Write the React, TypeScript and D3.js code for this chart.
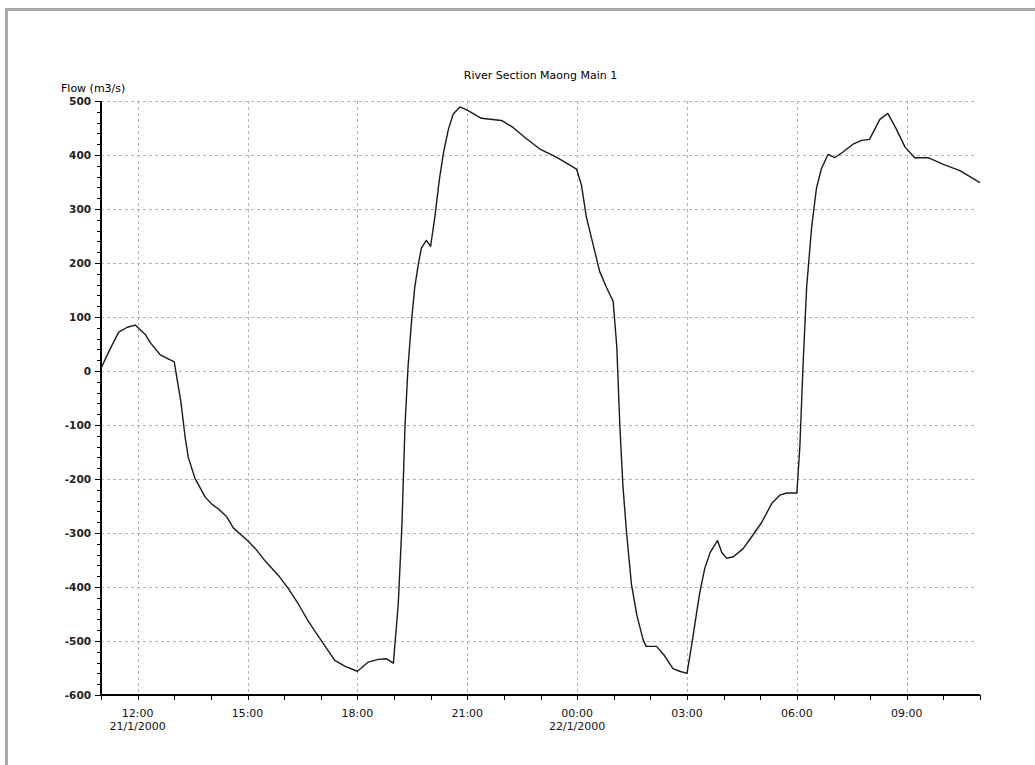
import React, { useRef, useEffect } from "react";
import * as d3 from "d3";

const title = "River Section Maong Main 1";
const yLabel = "Flow (m3/s)";

// times (day/month/year hour:min)
const times = [
  "21/01/2000 11:00", "21/01/2000 11:15", "21/01/2000 11:29", "21/01/2000 11:43", "21/01/2000 11:56",
  "21/01/2000 12:13", "21/01/2000 12:21", "21/01/2000 12:37", "21/01/2000 13:00", "21/01/2000 13:11",
  "21/01/2000 13:18", "21/01/2000 13:23", "21/01/2000 13:34", "21/01/2000 13:51", "21/01/2000 14:02",
  "21/01/2000 14:13", "21/01/2000 14:26", "21/01/2000 14:37", "21/01/2000 15:00", "21/01/2000 15:13",
  "21/01/2000 15:29", "21/01/2000 15:51", "21/01/2000 16:07", "21/01/2000 16:23", "21/01/2000 16:40",
  "21/01/2000 17:02", "21/01/2000 17:23", "21/01/2000 17:40", "21/01/2000 18:00", "21/01/2000 18:18",
  "21/01/2000 18:34", "21/01/2000 18:48", "21/01/2000 18:59", "21/01/2000 19:07", "21/01/2000 19:13",
  "21/01/2000 19:18", "21/01/2000 19:23", "21/01/2000 19:29", "21/01/2000 19:34", "21/01/2000 19:40",
  "21/01/2000 19:45", "21/01/2000 19:53", "21/01/2000 20:00", "21/01/2000 20:07", "21/01/2000 20:14",
  "21/01/2000 20:21", "21/01/2000 20:29", "21/01/2000 20:37", "21/01/2000 20:48", "21/01/2000 21:00",
  "21/01/2000 21:23", "21/01/2000 21:56", "21/01/2000 22:15", "21/01/2000 22:34", "21/01/2000 22:59",
  "21/01/2000 23:26", "21/01/2000 23:59", "22/01/2000 00:07", "22/01/2000 00:15", "22/01/2000 00:26",
  "22/01/2000 00:37", "22/01/2000 00:48", "22/01/2000 00:59", "22/01/2000 01:05", "22/01/2000 01:10",
  "22/01/2000 01:15", "22/01/2000 01:21", "22/01/2000 01:29", "22/01/2000 01:38", "22/01/2000 01:48",
  "22/01/2000 01:53", "22/01/2000 02:10", "22/01/2000 02:23", "22/01/2000 02:37", "22/01/2000 02:48",
  "22/01/2000 03:00", "22/01/2000 03:08", "22/01/2000 03:15", "22/01/2000 03:21", "22/01/2000 03:29",
  "22/01/2000 03:38", "22/01/2000 03:50", "22/01/2000 03:57", "22/01/2000 04:05", "22/01/2000 04:16",
  "22/01/2000 04:32", "22/01/2000 04:46", "22/01/2000 05:02", "22/01/2000 05:19", "22/01/2000 05:32",
  "22/01/2000 05:43", "22/01/2000 06:00", "22/01/2000 06:05", "22/01/2000 06:10", "22/01/2000 06:16",
  "22/01/2000 06:24", "22/01/2000 06:32", "22/01/2000 06:40", "22/01/2000 06:51", "22/01/2000 07:02",
  "22/01/2000 07:16", "22/01/2000 07:32", "22/01/2000 07:46", "22/01/2000 07:59", "22/01/2000 08:16",
  "22/01/2000 08:29", "22/01/2000 08:43", "22/01/2000 08:57", "22/01/2000 09:13", "22/01/2000 09:35",
  "22/01/2000 09:59", "22/01/2000 10:27", "22/01/2000 11:00",
];

const flows = [
  5, 41, 72, 81, 85,
  67, 52, 30, 17, -58,
  -124, -160, -199, -234, -247,
  -256, -270, -291, -314, -329,
  -352, -379, -403, -431, -464,
  -501, -536, -547, -556, -539,
  -534, -533, -541, -431, -285,
  -102, 8, 96, 155, 199,
  228, 242, 231, 286, 352,
  404, 447, 476, 489, 483,
  468, 464, 451, 433, 411,
  396, 374, 345, 286, 235,
  184, 155, 129, 45, -102,
  -212, -300, -395, -453, -497,
  -510, -510, -527, -551, -556,
  -560, -505, -453, -410, -366,
  -336, -314, -336, -347, -344,
  -329, -307, -281, -245, -230,
  -226, -226, -138, 8, 155,
  264, 338, 374, 401, 395,
  406, 420, 427, 429, 466,
  477, 448, 415, 395, 395,
  383, 371, 349,
];

const yTicks = [500, 400, 300, 200, 100, 0, -100, -200, -300, -400, -500, -600];
const timeStart = "21/01/2000 11:00";
const timeEnd = "22/01/2000 11:00";

const parseTime = d3.timeParse("%d/%m/%Y %H:%M");

const FlowChart = () => {
  const canvas = useRef<HTMLDivElement>(null);

  const W = 1035;
  const H = 765;
  const margin = { top: 101, right: 55, bottom: 70, left: 101 };
  const width = W - margin.left - margin.right;
  const height = H - margin.top - margin.bottom;
  const font = "'DejaVu Sans', Verdana, sans-serif";

  const draw = () => {
    d3.select(canvas.current).selectAll("*").remove();

    const svg = d3.select(canvas.current)
      .append("svg")
      .attr("width", W)
      .attr("height", H)
      .style("position", "absolute")
      .style("left", 0)
      .style("top", 0)
      .style("background", "#fff");

    // grey frame at top / left
    svg.append("line").attr("x1", 5).attr("x2", W).attr("y1", 9.5).attr("y2", 9.5)
      .style("stroke", "#a8a8a8").style("stroke-width", 3);
    svg.append("line").attr("x1", 6.5).attr("x2", 6.5).attr("y1", 8).attr("y2", H)
      .style("stroke", "#a8a8a8").style("stroke-width", 3);

    const xScale = d3.scaleTime()
      .domain([parseTime(timeStart)!, parseTime(timeEnd)!])
      .range([0, width]);
    const yScale = d3.scaleLinear().domain([-600, 500]).range([height, 0]);

    const g = svg.append("g").attr("transform", "translate(" + margin.left + "," + margin.top + ")");

    // grid
    const xMajor = xScale.ticks(d3.timeHour.every(3)!).filter(d => +d > +xScale.domain()[0] && +d < +xScale.domain()[1]);
    g.selectAll(".hgrid")
      .data(yTicks.filter(d => d > -600))
      .join("line")
      .attr("x1", 0).attr("x2", width - 3)
      .attr("y1", d => Math.round(yScale(d)) + 0.5).attr("y2", d => Math.round(yScale(d)) + 0.5)
      .style("stroke", "#b4b4b4").style("stroke-dasharray", "3,3");
    g.selectAll(".vgrid")
      .data(xMajor)
      .join("line")
      .attr("x1", d => Math.round(xScale(d)) + 0.5).attr("x2", d => Math.round(xScale(d)) + 0.5)
      .attr("y1", 0).attr("y2", height)
      .style("stroke", "#b4b4b4").style("stroke-dasharray", "3,3");

    // y axis
    const yMinor = d3.range(-600, 501, 20);
    g.selectAll(".ymin")
      .data(yMinor)
      .join("line")
      .attr("x1", d => (d % 100 === 0 ? -6 : -4)).attr("x2", 0)
      .attr("y1", d => Math.round(yScale(d)) + 0.5).attr("y2", d => Math.round(yScale(d)) + 0.5)
      .style("stroke", "#000");
    g.append("line").attr("x1", 0).attr("x2", 0).attr("y1", 0).attr("y2", height + 1)
      .style("stroke", "#000").style("stroke-width", 2);
    g.selectAll(".ylab")
      .data(yTicks)
      .join("text")
      .attr("x", -10)
      .attr("y", d => yScale(d))
      .attr("dy", "0.36em")
      .attr("text-anchor", "end")
      .style("font-family", font)
      .style("font-size", "10.5px")
      .style("font-weight", "bold")
      .style("fill", "#222")
      .text(d => String(d));

    // x axis
    const xHours = d3.timeHour.range(xScale.domain()[0], d3.timeHour.offset(xScale.domain()[1], 1));
    g.selectAll(".xmin")
      .data(xHours)
      .join("line")
      .attr("x1", d => Math.round(xScale(d)) + 0.5).attr("x2", d => Math.round(xScale(d)) + 0.5)
      .attr("y1", height).attr("y2", height + 5)
      .style("stroke", "#000");
    g.append("line").attr("x1", -1).attr("x2", width).attr("y1", height).attr("y2", height)
      .style("stroke", "#000").style("stroke-width", 2);

    const fmtHour = d3.timeFormat("%H:%M");
    const fmtDay = d3.timeFormat("%-d/%-m/%Y");
    const xl = g.selectAll(".xlab")
      .data(xMajor)
      .join("text")
      .attr("x", d => xScale(d))
      .attr("y", height + 22)
      .attr("text-anchor", "middle")
      .style("font-family", font)
      .style("font-size", "11px")
      .style("fill", "#111");
    xl.append("tspan").attr("x", d => xScale(d)).text(d => fmtHour(d));
    xl.filter((d, i) => i === 0 || d.getHours() === 0)
      .append("tspan").attr("x", d => xScale(d)).attr("dy", 13).text(d => fmtDay(d));

    // series line
    const data: [Date, number][] = times.map((t, i) => [parseTime(t)!, flows[i]]);
    const line = d3.line<[Date, number]>()
      .x(d => xScale(d[0]))
      .y(d => yScale(d[1]));
    g.append("path")
      .datum(data)
      .style("stroke", "#1a1a1a")
      .style("stroke-width", 1.4)
      .style("stroke-linejoin", "round")
      .style("fill", "none")
      .attr("d", line);

    // titles
    svg.append("text")
      .attr("x", margin.left + width / 2)
      .attr("y", 79)
      .attr("text-anchor", "middle")
      .style("font-family", font)
      .style("font-size", "11px")
      .style("fill", "#000")
      .text(title);
    svg.append("text")
      .attr("x", 61)
      .attr("y", 92)
      .style("font-family", font)
      .style("font-size", "11px")
      .style("fill", "#000")
      .text(yLabel);
  };

  useEffect(() => {
    draw();
  });

  return <div ref={canvas}></div>;
};

export default function App() {
  return <FlowChart />;
}
